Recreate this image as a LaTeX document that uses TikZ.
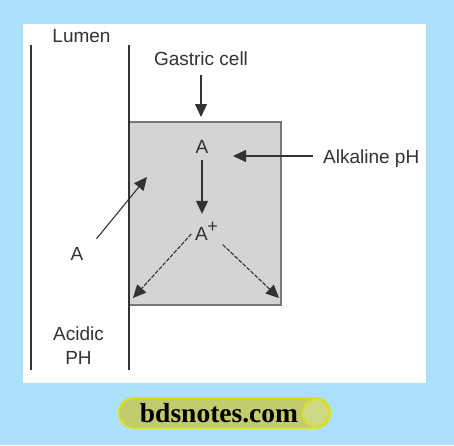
\documentclass[tikz,border=0pt]{standalone}
\usepackage{fontspec}
\setmainfont{Liberation Sans}
\newfontfamily\sitefont{Liberation Serif}
\usetikzlibrary{arrows.meta}
\definecolor{bgblue}{RGB}{173,224,252}
\definecolor{cellgray}{RGB}{211,212,214}
\definecolor{boxedge}{RGB}{120,120,120}
\definecolor{ink}{RGB}{51,51,51}
\definecolor{pillfill}{RGB}{194,203,110}
\definecolor{pilledge}{RGB}{217,224,33}
\definecolor{knobfill}{RGB}{207,217,133}

\begin{document}
\begin{tikzpicture}[x=1pt,y=-1pt,
    lbl/.style={font=\fontsize{19pt}{24pt}\selectfont,text=ink,inner sep=1pt},
    arr/.style={draw=ink,line width=1.1pt,-{Triangle[length=13pt,width=12pt]}},
    darr/.style={arr,dash pattern=on 4pt off 1.5pt},
    membrane/.style={draw=ink,line width=2pt}]
        % 背景和白色面板
        \useasboundingbox (0,0) rectangle (454,445);
        \fill[bgblue] (0,0) rectangle (454,445);
        \fill[white] (23,24) rectangle (426,383);

        % 胃细胞方框
        \node[rectangle,draw=boxedge,fill=cellgray,line width=1.3pt,minimum width=152pt,minimum height=183pt] (cell) at (205,213.5) {};

        % 两条膜线
        \draw[membrane] (30.5,45) -- (30.5,370);
        \draw[membrane] (128.5,45) -- (128.5,370);

        % 文字标签
        \node[lbl,anchor=base] (lumen) at (81.5,42) {Lumen};
        \node[lbl,anchor=base] (gastric) at (201,65) {Gastric cell};
        \node[lbl,anchor=base west] (alkaline) at (322,163) {Alkaline pH};
        \node[lbl,anchor=base] (Ain) at (202,153) {A};
        \node[lbl,anchor=base west] (Aplus) at (194,240) {A\kern-0.5pt\raisebox{0.4em}{\fontsize{18pt}{18pt}\selectfont +}};
        \node[lbl,anchor=base] (Aout) at (77,260) {A};
        \node[lbl,align=center] (acidic) at (78.5,346) {Acidic\\PH};

        % 箭头终点
        \coordinate (gtip) at (201,117);
        \coordinate (atip) at (233,156);
        \coordinate (entry) at (147,177);
        \coordinate (leftend) at (133,298);
        \coordinate (rightend) at (279,298);

        % 添加箭头
        \draw[arr,shorten <=9pt] (gastric.south -| gtip) -- (gtip);
        \draw[arr,shorten <=9pt] (alkaline.west |- atip) -- (atip);
        \draw[arr,shorten <=6pt,shorten >=7pt] (Ain.south) -- (Ain.south |- Aplus.north);
        \draw[arr] ([shift={(12,-7)}]Aout.north east) -- (entry);
        \draw[darr,shorten <=4pt] (Aplus.west) -- (leftend);
        \draw[darr,shorten <=5pt] (Aplus.south east) -- (rightend);

        % 底部网址标签
        \node[rectangle,rounded corners=15pt,draw=pilledge,fill=pillfill,line width=2pt,minimum width=211pt,minimum height=30pt] (badge) at (224.5,413) {};
        \node[circle,draw=pilledge,fill=knobfill,line width=2pt,minimum size=27pt,inner sep=0pt] (knob) at (316,413) {};
        \node[anchor=base,inner sep=0pt,font=\sitefont\bfseries\fontsize{27.5pt}{27.5pt}\selectfont] (site) at (219,422.5) {bdsnotes.com};
    \end{tikzpicture}
\end{document}
